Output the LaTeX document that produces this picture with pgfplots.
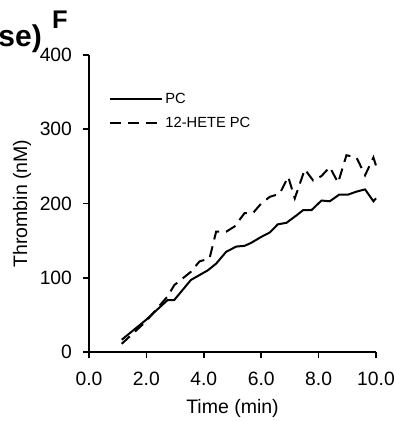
\documentclass[border=0pt]{standalone}
\usepackage{pgfplots}
\pgfplotsset{compat=1.18}
\usepackage{fontspec}
\setmainfont{Liberation Sans}
\begin{document}
\begin{tikzpicture}
\path[use as bounding box] (-89pt,-69pt) rectangle (305pt,352pt);
\begin{axis}[
  at={(0,0)}, anchor=south west,
  scale only axis, width=287pt, height=297pt,
  xmin=0, xmax=10, ymin=0, ymax=400,
  axis lines=left, axis line style={line width=1.6pt, -},
  xtick={0,2,...,10}, ytick={0,100,...,400},
  tick align=outside, major tick length=6pt,
  tick style={line width=1.6pt, black},
  /pgf/number format/assume math mode=true,
  ticklabel style={font=\fontsize{19.3}{22}\selectfont},
  xticklabel style={yshift=-10pt, /pgf/number format/.cd, fixed, fixed zerofill, precision=1},
  yticklabel style={xshift=-7.5pt},
  label style={font=\fontsize{19.5}{22}\selectfont},
  xlabel={Time (min)}, ylabel={Thrombin (nM)},
  x label style={at={(axis description cs:0.5,-0.189)}, anchor=center},
  y label style={at={(axis description cs:-0.233,0.5)}, anchor=center},
  legend style={draw=none, fill=none, at={(axis description cs:0.06,0.885)}, anchor=north west,
    font=\fontsize{14.7}{17}\selectfont, row sep=8pt},
  legend cell align=left,
  legend image code/.code={\draw[#1, line width=2pt] (0pt,0pt) -- (52pt,0pt);},
  clip=false,
]
\addplot[black, line width=2pt] coordinates {
(1.14,16.5) (1.98,43) (2.74,70) (2.97,70) (3.55,97) (4.14,110) (4.43,119) (4.78,135)
(5.13,142) (5.42,143) (5.65,147) (6.0,155) (6.3,161) (6.58,172) (6.88,174) (7.23,184)
(7.46,191) (7.75,191) (8.1,204) (8.39,203) (8.72,212) (9.03,212) (9.32,216) (9.62,219)
(9.91,203) (10.0,207)};
\addlegendentry{PC}
\addplot[black, line width=2pt, dash pattern=on 11pt off 7pt] coordinates {
(1.14,11) (1.98,41) (2.74,75) (2.97,90) (3.55,108) (3.85,122) (4.2,126) (4.43,162)
(4.78,162) (5.07,169) (5.42,187) (5.71,187) (6.0,200) (6.3,209) (6.64,213) (6.94,236)
(7.17,207) (7.52,246) (7.81,231) (8.1,237) (8.39,249) (8.68,228) (8.97,265) (9.32,262)
(9.62,238) (9.91,262) (10.0,251)};
\addlegendentry{12-HETE PC}
\end{axis}
\node[anchor=base west, inner sep=0pt, font=\fontsize{25.5}{28}\selectfont\bfseries] at (-37pt,323pt) {F};
\node[anchor=base east, inner sep=0pt, font=\fontsize{30}{33}\selectfont\bfseries] at (-47pt,305pt) {se)};
\end{tikzpicture}
\end{document}
